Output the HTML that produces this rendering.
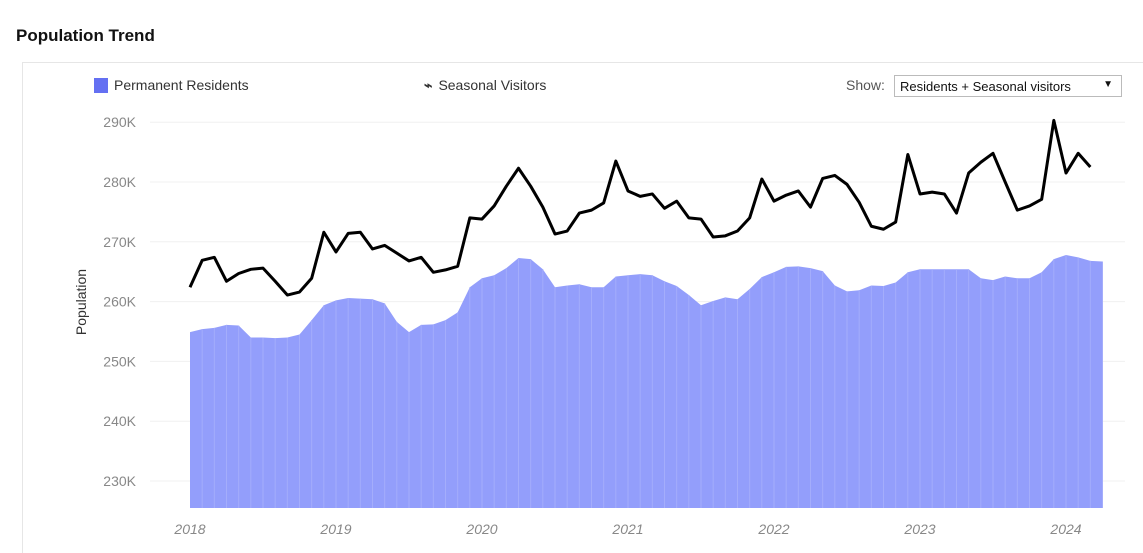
<!DOCTYPE html>
<html><head><meta charset="utf-8"><style>
body{margin:0;background:#fff;font-family:"Liberation Sans",sans-serif;}
#wrap{position:relative;width:1143px;height:553px;overflow:hidden;}
.title{position:absolute;left:16px;top:26px;font-size:17px;font-weight:bold;color:#111;}
.card{position:absolute;left:22px;top:62px;width:1130px;height:500px;border:1px solid #e6e6e6;}
.leg{position:absolute;top:77px;font-size:14px;color:#333;}
.sel{position:absolute;left:894px;top:75px;width:228px;height:22px;border:1px solid #bbb;font-size:13px;color:#111;box-sizing:border-box;padding:3px 5px;}
</style></head><body>
<div id="wrap">
<div class="title">Population Trend</div>
<div class="card"></div>
<div class="leg" style="left:94px"><span style="display:inline-block;width:14px;height:15px;background:#6470f2;vertical-align:-3px;margin-right:6px"></span>Permanent Residents</div>
<div class="leg" style="left:424px"><span style="font-weight:bold;margin-right:6px;color:#333">⌁</span>Seasonal Visitors</div>
<div class="leg" style="left:846px;font-size:14px;color:#555">Show:</div>
<div class="sel">Residents + Seasonal visitors<span style="position:absolute;right:8px;top:3px;font-size:10px">▼</span></div>
<svg id="chart" width="1143" height="553" style="position:absolute;left:0;top:0"></svg>
</div>
<script>
const residents=[254.9,255.4,255.6,256.1,256.0,254.0,254.0,253.9,254.0,254.5,256.9,259.4,
260.2,260.6,260.5,260.4,259.7,256.6,254.9,256.1,256.2,256.9,258.2,262.4,
263.9,264.4,265.6,267.3,267.1,265.4,262.4,262.7,262.9,262.4,262.4,264.2,
264.4,264.6,264.4,263.4,262.6,261.1,259.4,260.1,260.7,260.4,262.1,264.1,
264.9,265.8,265.9,265.6,265.1,262.7,261.7,261.9,262.7,262.6,263.2,264.9,
265.4,265.4,265.4,265.4,265.4,263.9,263.6,264.2,263.9,263.9,264.9,267.1,
267.8,267.4,266.8,266.7];
const visitors=[262.4,266.9,267.4,263.4,264.7,265.4,265.6,263.4,261.1,261.6,263.9,271.6,
268.3,271.4,271.6,268.8,269.4,268.1,266.8,267.4,264.9,265.3,265.9,274.0,
273.8,276.0,279.3,282.3,279.3,275.8,271.3,271.8,274.8,275.3,276.5,283.5,
278.5,277.6,278.0,275.6,276.8,274.0,273.8,270.8,271.0,271.8,274.0,280.5,
276.8,277.8,278.5,275.8,280.6,281.1,279.6,276.6,272.6,272.1,273.3,284.6,
278.0,278.3,278.0,274.8,281.5,283.3,284.8,280.0,275.3,276.0,277.1,290.3,
281.5,284.8,282.5];
const yTicks=[230,240,250,260,270,280,290];
const xYears=[2018,2019,2020,2021,2022,2023,2024];
const svg=document.getElementById('chart');const NS='http://www.w3.org/2000/svg';
const x=i=>190+i*146/12;
const y=v=>481-(v-230)*5.98;
const yBase=508;
function mk(t,a){const e=document.createElementNS(NS,t);for(const k in a)e.setAttribute(k,a[k]);svg.appendChild(e);return e;}
yTicks.forEach(v=>{const g=mk('line',{x1:150,x2:1125,y1:y(v),y2:y(v),stroke:'#f0f0f0'});


const t=mk('text',{x:136,y:y(v)+5,'text-anchor':'end','font-size':14,fill:'#888','font-family':'Liberation Sans'});t.textContent=v+'K';

});
xYears.forEach((yr,k)=>{const t=mk('text',{x:x(k*12),y:534,'text-anchor':'middle','font-size':14,'font-style':'italic',fill:'#888','font-family':'Liberation Sans'});t.textContent=yr;

});
const yt=mk('text',{x:0,y:0,transform:'translate(86,302) rotate(-90)','text-anchor':'middle','font-size':14,fill:'#333','font-family':'Liberation Sans'});yt.textContent='Population';


const n=residents.length;
let d='M'+x(0)+','+yBase;residents.forEach((v,i)=>{d+=' L'+x(i)+','+y(v);});d+=' L'+x(n-1)+','+yBase+'Z';
const area=mk('path',{d:d,fill:'#939efb'});


residents.forEach((v,i)=>{if(i===0)return;const l=mk('line',{x1:x(i),x2:x(i),y1:y(v),y2:yBase,stroke:'#a4adfb','stroke-width':1});

});
const pl=mk('polyline',{points:visitors.map((v,i)=>x(i)+','+y(v)).join(' '),fill:'none',stroke:'#000','stroke-width':3,'stroke-linejoin':'round'});


</script>
</body></html>
